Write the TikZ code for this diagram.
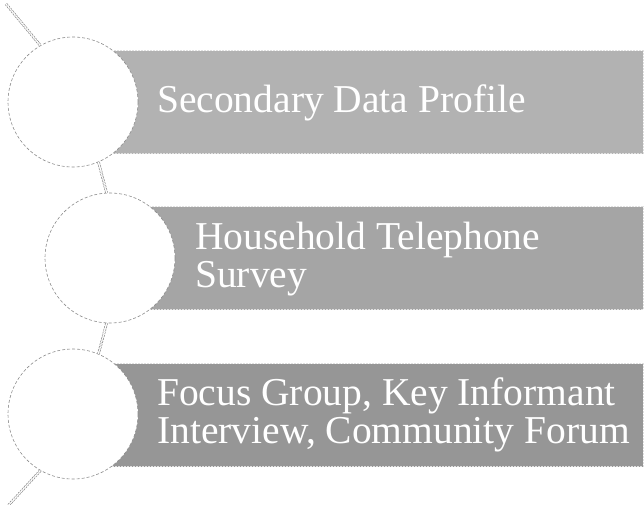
\documentclass[tikz,border=0pt]{standalone}
\usepackage{fontspec}
\setmainfont{Liberation Serif}
\usetikzlibrary{positioning}
\definecolor{barA}{RGB}{178,178,178}
\definecolor{barB}{RGB}{165,165,165}
\definecolor{barC}{RGB}{150,150,150}

\begin{document}
\begin{tikzpicture}[
  x=1pt, y=-1pt,
  disc/.style={circle, draw=black!45, fill=white, dash pattern=on 3pt off 2pt,
               line width=0.6pt, minimum size=130pt, inner sep=0pt},
  bar/.style={draw=black!12, dash pattern=on 2pt off 1pt, line width=0.5pt,
              anchor=west, minimum width=570pt, minimum height=103pt, inner sep=0pt},
  link/.style={draw=black!50, double=white, double distance=1.4pt,
               line width=0.6pt, dash pattern=on 2pt off 1pt},
  label/.style={text=white, font=\fontsize{39.5}{38}\selectfont, align=left, inner sep=0pt}
]
\useasboundingbox (0,0) rectangle (644,504);

% bars
\node[bar, fill=barA] (b1) at (73,102) {};
\node[bar, fill=barB, minimum width=533pt] (b2) at (110,258) {};
\node[bar, fill=barC] (b3) at (73,415) {};

% circles
\node[disc] (c1) at (73,102) {};
\node[disc] (c2) at (110,258) {};
\node[disc] (c3) at (73,414) {};

% texts
\node[label, anchor=base west] (t1) at (157,112) {Secondary Data Profile};
\node[label, anchor=west] (t2) at (195,259) {Household Telephone\\Survey};
\node[label, anchor=west] (t3) at (157,415) {Focus Group, Key Informant\\Interview, Community Forum};

% arc pieces
\coordinate (top) at (6,4);
\coordinate (bottom) at (6,508);
\draw[link] (top) -- (c1.120);
\draw[link] (c1.-67) -- (c2.93);
\draw[link] (c2.-93) -- (c3.67);
\draw[link] (c3.-120) -- (bottom);
\end{tikzpicture}
\end{document}
